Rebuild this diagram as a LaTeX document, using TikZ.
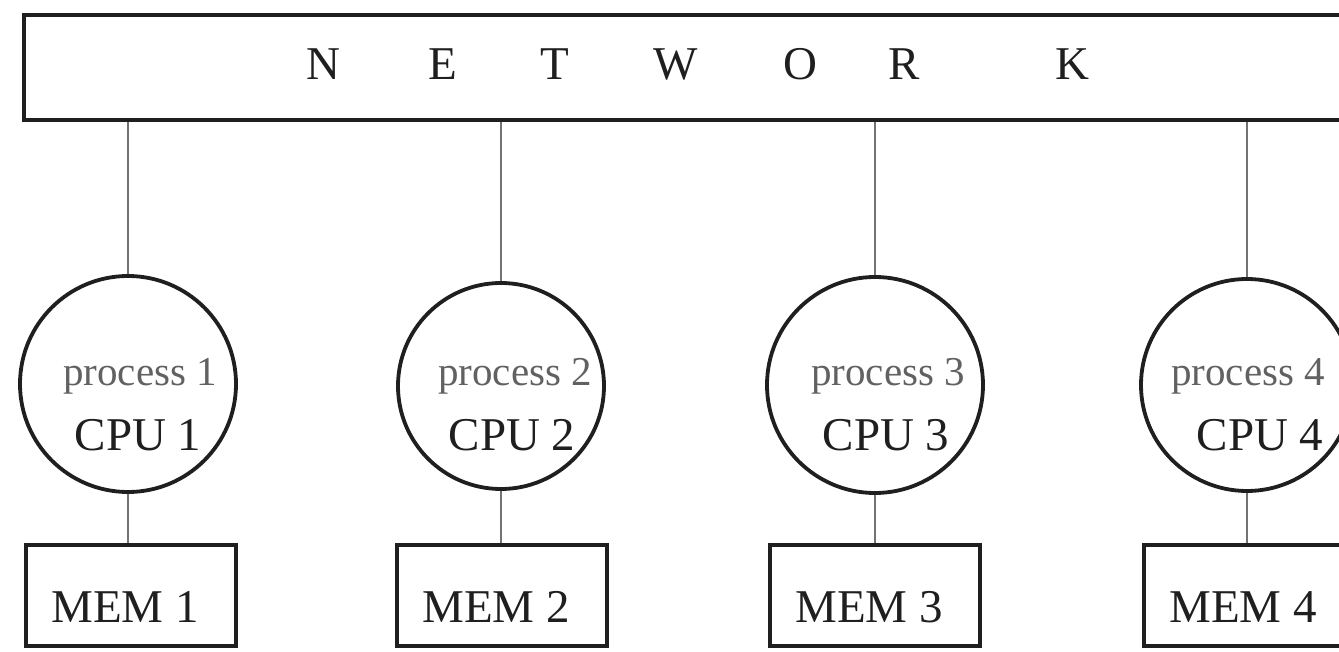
\documentclass[tikz,border=0pt]{standalone}
\usepackage{fontspec}
\setmainfont{Liberation Serif}
\begin{document}
\begin{tikzpicture}[x=1pt,y=-1pt,
  frame/.style={draw=black!88, line width=4.2pt},
  netbox/.style={frame, rectangle, anchor=north west, minimum width=1420pt,
    minimum height=105pt, inner sep=0pt},
  cpunode/.style={frame, circle, line width=3.8pt, inner sep=0pt},
  memnode/.style={frame, rectangle, minimum width=210pt, minimum height=101pt,
    inner sep=0pt, font=\fontsize{47}{47}\selectfont, text height=54pt,
    text depth=0pt, text=black!88},
  wire/.style={draw=black!55, line width=2.8pt},
  letter/.style={anchor=base, font=\fontsize{47}{47}\selectfont, text=black!88},
  proclabel/.style={anchor=base, font=\fontsize{41}{41}\selectfont, text=black!62},
  cpulabel/.style={anchor=base, font=\fontsize{47}{47}\selectfont, text=black!88}]
\useasboundingbox (0,0) rectangle (1339,652);
\clip (0,0) rectangle (1339,652);

% the shared interconnect
\node[netbox] (net) at (22,13) {};
\foreach \ch/\lx in {N/323,E/443,T/555,W/676,O/800,R/904,K/1072}
  \node[letter] (let\ch) at (\lx,80) {\ch};

% one processor with its local memory per column
\foreach \i/\cx/\cy/\d/\px/\qx/\mx in {
    1/128/384/216/140/138/131,
    2/501/386/206/515/512/502,
    3/875/385/216/888/886/875,
    4/1247/385/212/1248/1260/1249}{
  \node[cpunode, minimum size=\d pt] (cpu\i) at (\cx,\cy) {};
  \node[proclabel] (proc\i) at (\px,385) {process \i};
  \node[cpulabel] (cpul\i) at (\qx,450) {CPU \i};
  \node[memnode] (mem\i) at (\mx,595.5) {MEM \i\hspace*{12pt}};
  \draw[wire] (net.south -| cpu\i.north) -- (cpu\i.north);
  \draw[wire] (cpu\i.south) -- (cpu\i.south |- mem\i.north);
}
\end{tikzpicture}
\end{document}
